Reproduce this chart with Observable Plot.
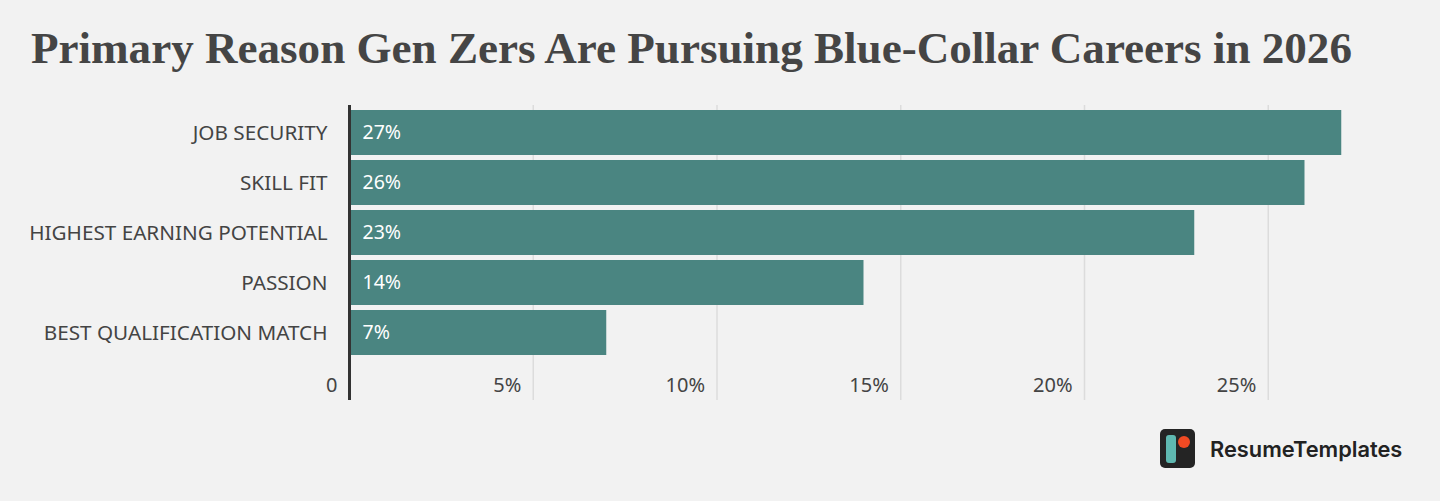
<!DOCTYPE html>
<html>
<head>
<meta charset="utf-8">
<script src="https://cdn.jsdelivr.net/npm/d3@7"></script>
<script src="https://cdn.jsdelivr.net/npm/@observablehq/plot@0.6"></script>
<style>
  html, body { margin: 0; padding: 0; background: #f2f2f2; }
  body { width: 1440px; height: 501px; position: relative; overflow: hidden; }
  #title {
    position: absolute; left: 31px; top: 20px;
    font-family: "Liberation Serif", serif; font-weight: bold; font-size: 44px;
    color: #454545; white-space: nowrap; line-height: 56px;
  }
  #chart { position: absolute; left: 0; top: 95px; }
  #logo { position: absolute; left: 1160px; top: 429px; display: flex; align-items: center; }
  #logo span { font-family: Inter, sans-serif; font-weight: 600; font-size: 21.8px; color: #222; margin-left: 15px; }
</style>
</head>
<body>
<div id="title">Primary Reason Gen Zers Are Pursuing Blue-Collar Careers in 2026</div>
<div id="chart"></div>
<div id="logo">
  <svg width="35" height="39" viewBox="0 0 35 39">
    <rect x="0" y="0" width="35" height="39" rx="5" fill="#242424"/>
    <rect x="6" y="6" width="10" height="28" rx="3" fill="#5fb8b0"/>
    <circle cx="24" cy="13" r="6" fill="#f04a23"/>
  </svg>
  <span>ResumeTemplates</span>
</div>
<script>
const categories = ["JOB SECURITY", "SKILL FIT", "HIGHEST EARNING POTENTIAL", "PASSION", "BEST QUALIFICATION MATCH"];
const values = [27, 26, 23, 14, 7];
const xTicks = [0, 5, 10, 15, 20, 25];
const xTickLabels = ["0", "5%", "10%", "15%", "20%", "25%"];

const data = categories.map((c, i) => ({category: c, value: values[i]}));

const font = "'Noto Sans', sans-serif";

const plot = Plot.plot({
  width: 1440,
  height: 330,
  marginLeft: 349,
  marginRight: 62,
  marginTop: 10,
  marginBottom: 25,
  style: {background: "transparent", fontFamily: font, fontSize: "20px", color: "#444"},
  x: {domain: [0, 28], axis: null},
  y: {domain: categories, range: [9, 267], padding: 0.1, axis: null},
  marks: [
    Plot.ruleX(xTicks.slice(1), {stroke: "#dcdcdc", strokeWidth: 1.5}),
    Plot.barX(data, {y: "category", x: "value", fill: "#4a8581", insetLeft: 2}),
    Plot.text(data, {y: "category", x: 0, text: d => d.value + "%", dx: 13, textAnchor: "start", fill: "white", fontSize: 19.5, fontFamily: font}),
    Plot.axisY({tickSize: 0, tickPadding: 22, fontSize: 20.7, fill: "#444", fontFamily: font, label: null}),
    Plot.axisX(xTicks, {tickSize: 0, tickPadding: 0, tickFormat: d => xTickLabels[xTicks.indexOf(d)], anchor: "bottom", textAnchor: "end", dx: -12, dy: -23, fontSize: 20, fill: "#444", fontFamily: font, label: null}),
    Plot.ruleX([0], {stroke: "#333", strokeWidth: 3})
  ]
});
document.getElementById("chart").appendChild(plot);

// fit title width to reference (~1321px)
const t = document.getElementById("title");
const w = t.getBoundingClientRect().width;
t.style.fontSize = (44 * 1321 / w).toFixed(2) + "px";
</script>
</body>
</html>
